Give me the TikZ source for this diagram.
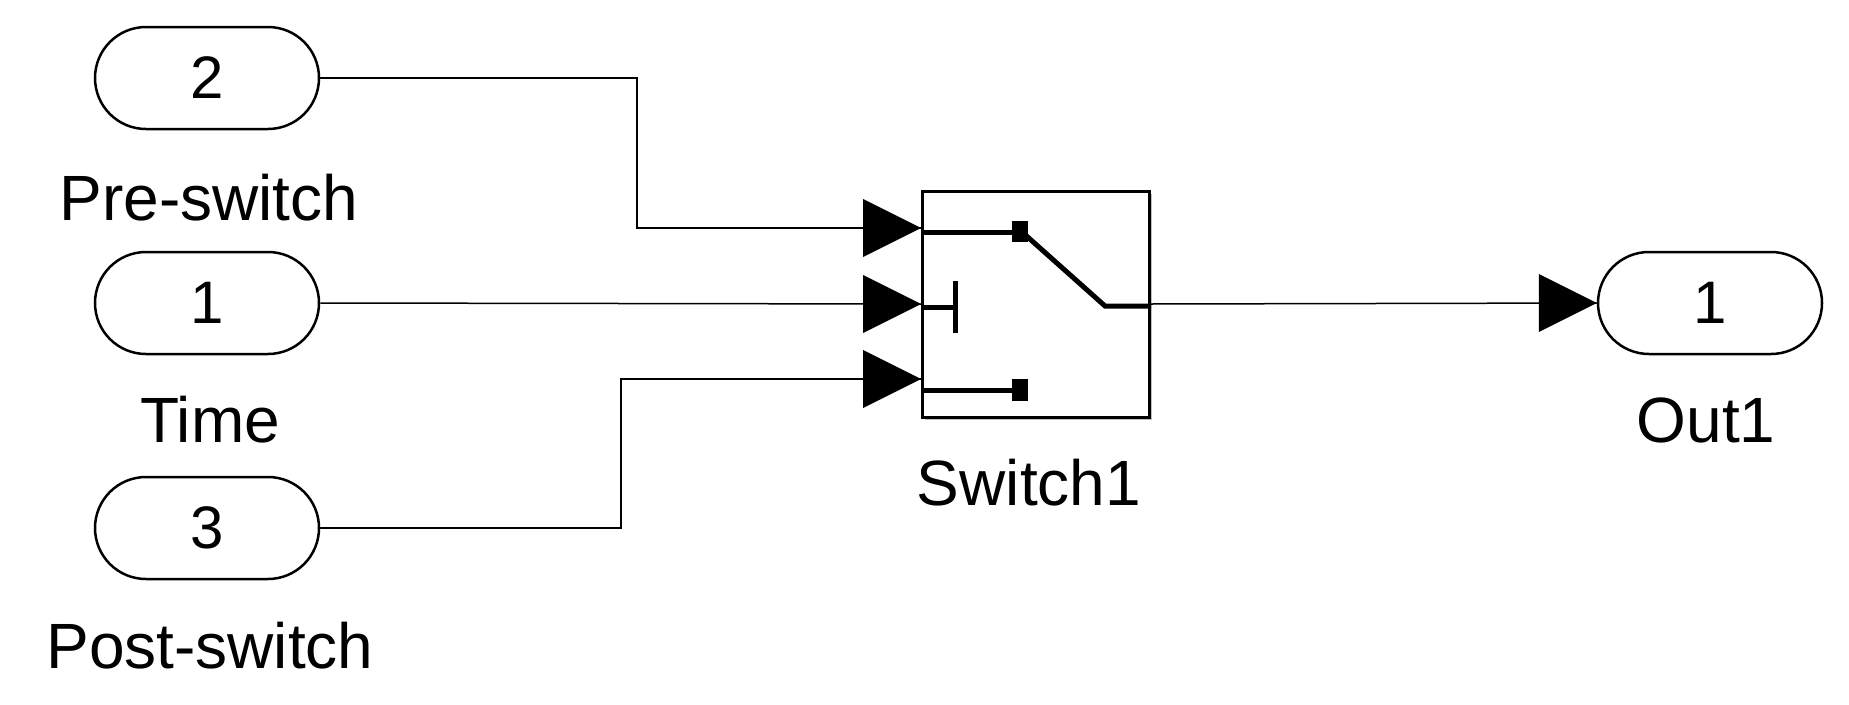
\documentclass[tikz,border=0pt]{standalone}
\usepackage{fontspec}
\setmainfont{Liberation Sans}
\begin{document}
\begin{tikzpicture}[x=1pt,y=-1pt,
  port/.style={draw,line width=2.5pt,rounded corners=51pt,minimum width=224pt,minimum height=102pt,inner sep=0pt,font=\fontsize{60}{64}\selectfont},
  lbl/.style={font=\fontsize{64}{70}\selectfont,inner sep=0pt},
  wire/.style={line width=1.5pt},
  tri/.style={fill=black},
  sym/.style={line width=5pt}]
\useasboundingbox (0,0) rectangle (1849,704);
\node[port] (in2) at (207,78) {2};
\node[lbl] (l2) at (209,198) {Pre-switch};
\node[port] (in1) at (207,303) {1};
\node[lbl] (l1) at (210,420) {Time};
\node[port] (in3) at (207,528) {3};
\node[lbl] (l3) at (210,646) {Post-switch};
\node[port] (out) at (1710,303) {1};
\node[lbl] (lo) at (1706,420) {Out1};
\fill[black!25] (925,194) rectangle (1152,420);
\node[draw,line width=3pt,fill=white,minimum width=227pt,minimum height=226pt,inner sep=0pt,anchor=north west] (sw) at (921,190) {};
\node[lbl] (ls) at (1029,483) {Switch1};
% internal symbol
\draw[sym] (sw.west|-0,232) -- (1020,232);
\fill (1012,221) rectangle (1028,242);
\draw[sym] (1022,232) -- (1105,306) -- (sw.east|-0,306);
\draw[sym] (sw.west|-0,307) -- (955,307);
\draw[sym] (955,281) -- (955,333);
\draw[sym] (sw.west|-0,390) -- (1020,390);
\fill (1012,379) rectangle (1028,401);
% wires
\coordinate (p1) at (sw.west|-0,228);
\coordinate (p2) at (sw.west|-0,304);
\coordinate (p3) at (sw.west|-0,379);
\draw[wire] (in2.east) -| (637,228) -- (p1);
\draw[wire] (in1.east) -- (p2);
\draw[wire] (in3.east) -| (621,379) -- (p3);
\draw[wire] (sw.east|-0,304) -- (out.west);
\foreach \p in {p1,p2,p3}{\fill ([xshift=-58pt,yshift=-29pt]\p) -- (\p) -- ([xshift=-58pt,yshift=29pt]\p) -- cycle;}
\fill ([xshift=-58pt,yshift=-29pt]out.west) -- (out.west) -- ([xshift=-58pt,yshift=29pt]out.west) -- cycle;
\end{tikzpicture}
\end{document}
